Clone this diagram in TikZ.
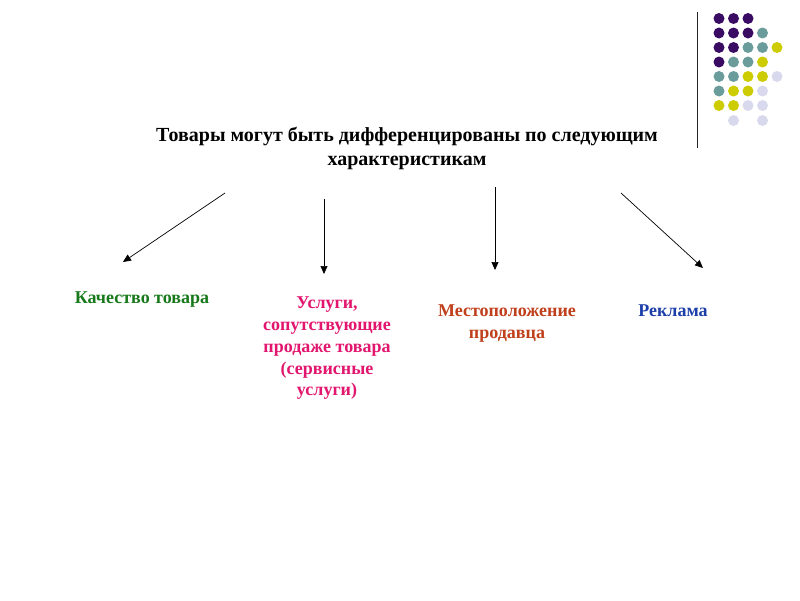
\documentclass[tikz,border=0pt]{standalone}
\usepackage{fontspec}
\setmainfont{Liberation Serif}
\usetikzlibrary{arrows.meta}
\definecolor{dpurple}{HTML}{3A0B63}
\definecolor{dteal}{HTML}{6B9C9C}
\definecolor{dyellow}{HTML}{CCCC00}
\definecolor{dlav}{HTML}{D9D9EE}
\definecolor{cgreen}{HTML}{17791A}
\definecolor{cpink}{HTML}{E2166E}
\definecolor{corange}{HTML}{C0401C}
\definecolor{cblue}{HTML}{1C3EA8}
\tikzset{
  titletext/.style={font=\fontsize{20}{24}\selectfont\bfseries, align=center, inner sep=0pt},
  labeltext/.style={font=\fontsize{18}{21.75}\selectfont\bfseries, align=center, inner sep=0pt},
  arr/.style={-{Triangle[length=8pt,width=7pt]}, line width=0.7pt},
  dot/.style={circle, inner sep=0pt, minimum size=11pt, draw=none},
}
\begin{document}
\begin{tikzpicture}[x=1pt,y=-1pt]
\useasboundingbox[fill=white] (0,0) rectangle (800,600);
% decoration
\draw[line width=0.8pt, black!85] (697,12) -- (697,148);
\foreach \r/\row in {0/{dpurple,dpurple,dpurple}, 1/{dpurple,dpurple,dpurple,dteal}, 2/{dpurple,dpurple,dteal,dteal,dyellow}, 3/{dpurple,dteal,dteal,dyellow}, 4/{dteal,dteal,dyellow,dyellow,dlav}, 5/{dteal,dyellow,dyellow,dlav}, 6/{dyellow,dyellow,dlav,dlav}}{
  \foreach \c [count=\i from 0] in \row {
    \node[dot, fill=\c] (d\r\i) at ({719+14.5*\i},{18.5+14.5*\r}) {};
  }
}
\node[dot, fill=dlav] (d71) at (733.5,120.5) {};
\node[dot, fill=dlav] (d73) at (762.5,120.5) {};
% title
\node[titletext] (title) at (407,148) {Товары могут быть дифференцированы по следующим\\характеристикам};
% labels
\node[labeltext, text=cgreen, anchor=north] (l1) at (142,292) {Качество товара};
\node[labeltext, text=cpink, anchor=north] (l2) at (327,297) {Услуги,\\сопутствующие\\продаже товара\\(сервисные\\услуги)};
\node[labeltext, text=corange, anchor=north] (l3) at (507,305) {Местоположение\\продавца};
\node[labeltext, text=cblue, anchor=north] (l4) at (673,305) {Реклама};
% arrows
\coordinate (s1) at (225,193); \coordinate (e1) at (123,262);
\coordinate (s2) at (324,199); \coordinate (e2) at (324,274);
\coordinate (s3) at (495,187); \coordinate (e3) at (495,270);
\coordinate (s4) at (621,193); \coordinate (e4) at (703,268);
\draw[arr] (s1) -- (e1);
\draw[arr] (s2) -- (e2);
\draw[arr] (s3) -- (e3);
\draw[arr] (s4) -- (e4);
\end{tikzpicture}
\end{document}
